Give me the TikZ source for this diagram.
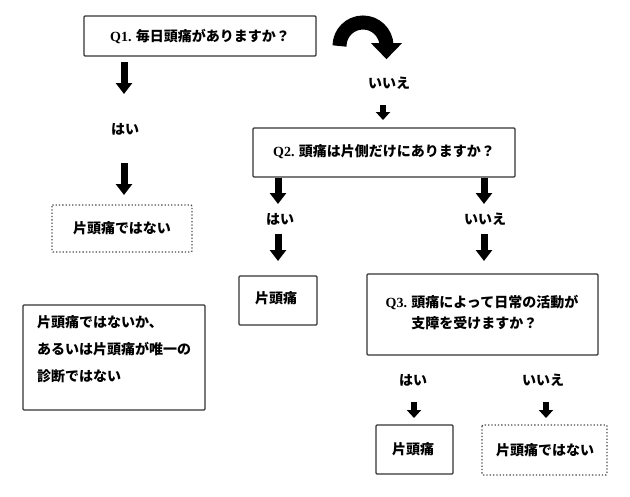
\documentclass[tikz,border=0pt]{standalone}
\usepackage{fontspec}
\setmainfont{Liberation Serif}
\newfontfamily\jp{Noto Sans CJK JP}
\usetikzlibrary{arrows.meta}
\tikzset{
  txt/.style={font=\fontsize{14}{21}\selectfont\bfseries\jp, inner sep=0pt},
  solidbox/.style={draw=black!80, line width=1.4pt, rounded corners=1pt},
  dotbox/.style={draw=black!70, line width=1.3pt, dotted, rounded corners=1pt},
  bigarrow/.style={line width=7pt, -{Triangle[width=16pt,length=11pt]}},
  smallarrow/.style={line width=6pt, -{Triangle[width=14pt,length=8pt]}},
}
\begin{document}
\begin{tikzpicture}[x=1pt,y=-1pt]
\useasboundingbox (0,0) rectangle (630,496);
% boxes
\draw[solidbox] (84,16) rectangle (316,56);
\node[txt] (q1) at (200,36) {{\rmfamily Q1.} 毎日頭痛がありますか？};
\coordinate (q1s) at (124,62);
\node[txt] (yes1) at (125,129) {はい};
\draw[dotbox] (52,205) rectangle (192,252);
\node[txt] (no1) at (122,228) {片頭痛ではない};
\draw[bigarrow] (q1s) -- (124,94);
\draw[bigarrow] (124,163) -- (124,195);

% curved arrow
\draw[line width=14pt, -{Triangle[width=30pt,length=16pt]}]
  (339.5,46) arc[start angle=180, end angle=358, radius=23.5] -- ++(0,14);

\node[txt] (iie1) at (389,83) {いいえ};
\draw[smallarrow] (383,105) -- (383,120);

\draw[solidbox] (253,128) rectangle (515,177);
\node[txt] (q2) at (384,152) {{\rmfamily Q2.} 頭痛は片側だけにありますか？};

\draw[bigarrow] (278,178) -- (278,204);
\node[txt] (yes2) at (280,219) {はい};
\draw[bigarrow] (278,234) -- (278,261);

\draw[bigarrow] (484,178) -- (484,204);
\node[txt] (iie2) at (485,219) {いいえ};
\draw[bigarrow] (484,234) -- (484,261);

\draw[solidbox] (239,276) rectangle (317,325);
\node[txt] (mig1) at (276,298) {片頭痛};

\draw[solidbox] (367,274) rectangle (598,355);
\node[txt, align=left] (q3) at (482,313) {{\rmfamily Q3.} 頭痛によって日常の活動が\\\phantom{{\rmfamily Q3.} }支障を受けますか？};

\node[txt] (yes3) at (413,380) {はい};
\node[txt] (iie3) at (543,380) {いいえ};
\draw[smallarrow] (414,402) -- (414,418);
\draw[smallarrow] (546,402) -- (546,418);

\draw[solidbox] (376,425) rectangle (453,474);
\node[txt] (mig2) at (413,449) {片頭痛};
\draw[dotbox] (482,425) rectangle (607,475);
\node[txt] (no2) at (545,450) {片頭痛ではない};

\draw[solidbox] (23,305) rectangle (205,410);
\node[txt, align=left, font=\fontsize{14}{27}\selectfont\bfseries\jp, anchor=north west] (note) at (37,315) {片頭痛ではないか、\\あるいは片頭痛が唯一の\\診断ではない};
\end{tikzpicture}
\end{document}
